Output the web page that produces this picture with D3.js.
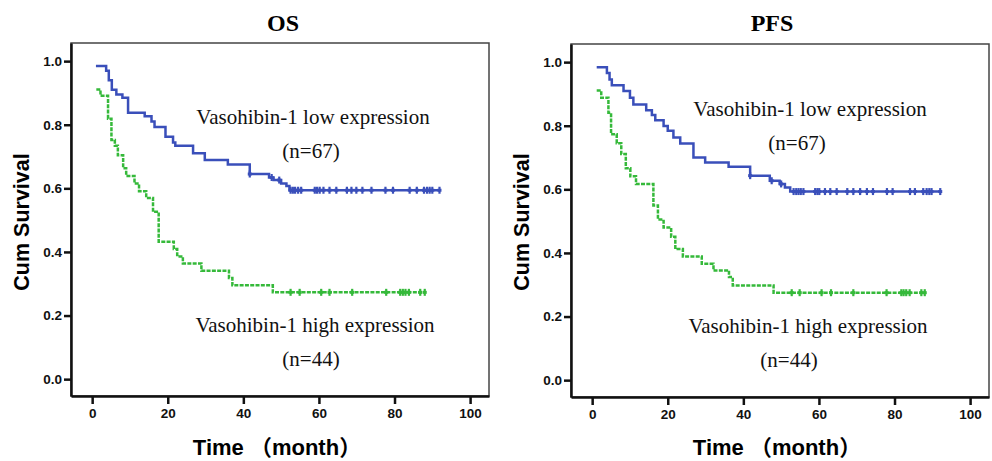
<!DOCTYPE html>
<html>
<head>
<meta charset="utf-8">
<script src="https://d3js.org/d3.v7.min.js"></script>
<style type="text/css">
    body {
        margin: 0;
        padding: 0;
        background: #FFF;
    }

    .axis path, .axis line {
        stroke: #111;
        stroke-width: 2.5;
    }

    .axis text {
        fill: #111;
        font-family: "Liberation Sans", Arial, sans-serif;
        font-weight: bold;
        font-size: 13.5px;
    }

    .note {
        font-family: "Liberation Serif", "Times New Roman", serif;
        font-size: 21px;
        fill: #111;
    }
</style>
</head>
<body>
<script>

// axis ticks
var xTicks = [0, 20, 40, 60, 80, 100];
var yTicks = [0, 0.2, 0.4, 0.6, 0.8, 1.0];

// OS, low expression (n=67)
var osLowTime = [1, 3.7, 4.4, 5.2, 6.4, 8, 9.5, 13.9, 15.7, 16.5, 19.4, 21.4, 22, 26.7, 29.8, 35.9, 41.7, 46.8, 48, 50, 51.4, 52.2];
var osLowSurv = [0.985, 0.97, 0.94, 0.91, 0.895, 0.885, 0.838, 0.827, 0.81, 0.793, 0.762, 0.744, 0.734, 0.71, 0.689, 0.675, 0.645, 0.634, 0.626, 0.615, 0.607, 0.594];
var osLowCensor = [41.7, 47.5, 49.5, 52.5, 53.1, 53.7, 54.5, 55.3, 58.9, 59.5, 60.2, 61.2, 62.8, 64.6, 67.4, 68.6, 69.9, 71.5, 73.9, 77.6, 79.6, 84, 85.9, 87.8, 88.6, 89.3, 90, 91.9];

// OS, high expression (n=44)
var osHighTime = [1.1, 2.2, 4.2, 5.1, 6, 6.8, 8.2, 9, 11.2, 12.4, 14.3, 16.1, 17.6, 21.6, 22.5, 24, 28.9, 36.2, 37.1, 47.8];
var osHighSurv = [0.911, 0.891, 0.819, 0.752, 0.734, 0.704, 0.663, 0.639, 0.615, 0.591, 0.570, 0.526, 0.432, 0.409, 0.386, 0.364, 0.341, 0.318, 0.295, 0.273];
var osHighCensor = [52.5, 54.9, 60.6, 62.8, 68.8, 77.8, 81.5, 82.2, 82.9, 83.8, 86.8, 88];

// PFS, low expression (n=67)
var pfsLowTime = [1.2, 3.9, 4.6, 5.2, 8.3, 10, 10.9, 14.3, 15.8, 16.7, 18.9, 20, 21.5, 23.3, 26.8, 29.9, 36.1, 41.8, 47, 49.6, 51, 52.4];
var pfsLowSurv = [0.984, 0.966, 0.945, 0.927, 0.909, 0.888, 0.867, 0.849, 0.834, 0.817, 0.799, 0.784, 0.763, 0.744, 0.700, 0.684, 0.671, 0.643, 0.627, 0.617, 0.606, 0.593];
var pfsLowCensor = [41.8, 47.5, 50, 53.3, 54, 54.6, 55.2, 55.9, 59, 59.6, 60.1, 61.6, 63, 64.7, 67.5, 69.1, 70.9, 72.7, 74.3, 78, 79.5, 84.1, 85.4, 87.6, 88.5, 89.2, 89.8, 92.1];

// PFS, high expression (n=44)
var pfsHighTime = [1.2, 2.4, 4.3, 5, 6.5, 7.7, 8.9, 10.1, 11.6, 16.2, 17.4, 18.9, 20.9, 22, 24, 29, 32.1, 36.2, 37.2, 48];
var pfsHighSurv = [0.911, 0.888, 0.841, 0.773, 0.745, 0.711, 0.666, 0.641, 0.617, 0.549, 0.505, 0.480, 0.451, 0.412, 0.389, 0.366, 0.345, 0.324, 0.298, 0.275];
var pfsHighCensor = [52.8, 54.9, 60.7, 63.2, 69.1, 77.9, 81.8, 82.4, 83.1, 84, 87.1, 88];

var blue = "#3a4fba";
var green = "#35b93a";

var width = 992, height = 461;
var pw = 418, ph = 353;

var svg = d3.select("body")
    .append("svg")
    .attr("width", width)
    .attr("height", height);

var x = d3.scaleLinear().domain([-5.6, 105]).range([0, pw]);
var y = d3.scaleLinear().domain([-0.053, 1.057]).range([ph, 0]);

function survAt(times, surv, t) {
    var i = d3.bisectRight(times, t) - 1;
    return surv[Math.max(i, 0)];
}

function drawCurve(g, times, surv, censor, color, dashed) {
    var pts = times.map(function (t, i) { return [t, surv[i]]; });
    pts.push([d3.max(censor), surv[surv.length - 1]]);

    var line = d3.line()
        .x(function (d) { return x(d[0]); })
        .y(function (d) { return y(d[1]); })
        .curve(d3.curveStepAfter);

    g.append("path")
        .attr("d", line(pts))
        .attr("fill", "none")
        .attr("stroke", color)
        .attr("stroke-width", 2.5)
        .attr("stroke-dasharray", dashed ? "4,1.3" : null);

    // censor marks: small plus signs
    var marks = g.selectAll(null)
        .data(censor)
        .enter().append("g")
        .attr("transform", function (d) {
            return "translate(" + x(d) + "," + y(survAt(times, surv, d)) + ")";
        });
    marks.append("line")
        .attr("y1", -3.5).attr("y2", 3.5)
        .attr("stroke", color).attr("stroke-width", 2.2);
    marks.append("line")
        .attr("x1", -2).attr("x2", 2)
        .attr("stroke", color).attr("stroke-width", 3);
}

function drawPanel(cfg) {
    var g = svg.append("g")
        .attr("transform", "translate(" + cfg.left + "," + cfg.top + ")");

    // frame
    g.append("rect")
        .attr("width", pw)
        .attr("height", ph)
        .attr("fill", "none")
        .attr("stroke", "#444")
        .attr("stroke-width", 1.5);

    g.append("g")
        .attr("class", "axis")
        .attr("transform", "translate(0," + ph + ")")
        .call(d3.axisBottom(x).tickValues(xTicks).tickSize(8).tickSizeOuter(0).tickPadding(4)
            .tickFormat(d3.format("d")));

    g.append("g")
        .attr("class", "axis")
        .call(d3.axisLeft(y).tickValues(yTicks).tickSize(7).tickSizeOuter(0).tickPadding(2)
            .tickFormat(d3.format(".1f")));

    drawCurve(g, cfg.lowT, cfg.lowS, cfg.lowC, blue, false);
    drawCurve(g, cfg.highT, cfg.highS, cfg.highC, green, true);

    svg.append("text")
        .attr("x", cfg.left + cfg.titleX)
        .attr("y", 31)
        .attr("text-anchor", "middle")
        .style("font-family", "'Liberation Serif', 'Times New Roman', serif")
        .style("font-weight", "bold")
        .style("font-size", "24px")
        .text(cfg.title);

    svg.append("text")
        .attr("transform", "translate(" + (cfg.left - 42) + "," + 222 + ") rotate(-90)")
        .attr("text-anchor", "middle")
        .style("font-family", "'Liberation Sans', Arial, sans-serif")
        .style("font-weight", "bold")
        .style("font-size", "21.5px")
        .text("Cum Survival");

    svg.append("text")
        .attr("x", cfg.left + cfg.xTitleX)
        .attr("y", 455)
        .attr("text-anchor", "middle")
        .style("font-family", "'Liberation Sans', Arial, 'Noto Sans CJK SC', sans-serif")
        .style("font-weight", "bold")
        .style("font-size", "22px")
        .text("Time （month）");

    cfg.notes.forEach(function (n) {
        svg.append("text")
            .attr("class", "note")
            .attr("x", cfg.left + n[0])
            .attr("y", n[1])
            .attr("text-anchor", "middle")
            .text(n[2]);
    });
}

drawPanel({
    left: 71, top: 43, title: "OS", titleX: 212, xTitleX: 206,
    lowT: osLowTime, lowS: osLowSurv, lowC: osLowCensor,
    highT: osHighTime, highS: osHighSurv, highC: osHighCensor,
    notes: [[242, 124, "Vasohibin-1 low expression"], [240, 158, "(n=67)"],
            [244, 332, "Vasohibin-1 high expression"], [240, 366, "(n=44)"]]
});

drawPanel({
    left: 571, top: 44, title: "PFS", titleX: 201, xTitleX: 206,
    lowT: pfsLowTime, lowS: pfsLowSurv, lowC: pfsLowCensor,
    highT: pfsHighTime, highS: pfsHighSurv, highC: pfsHighCensor,
    notes: [[239, 116, "Vasohibin-1 low expression"], [226, 150, "(n=67)"],
            [237, 333, "Vasohibin-1 high expression"], [218, 367, "(n=44)"]]
});

</script>
</body>
</html>
